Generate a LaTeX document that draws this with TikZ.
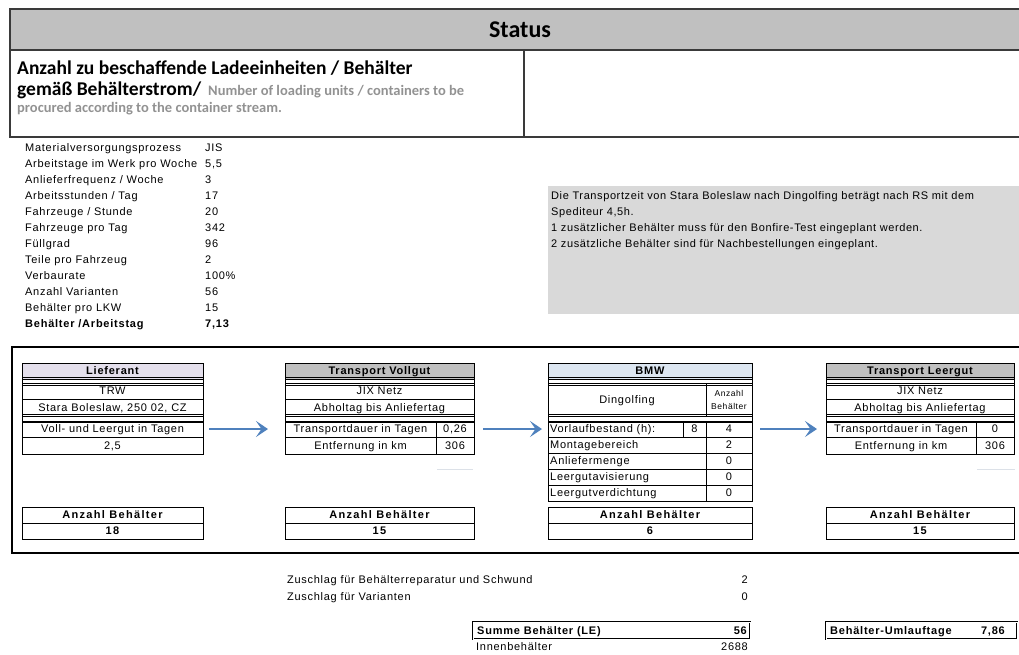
\documentclass[tikz,border=0pt]{standalone}
\usepackage{fontspec}
\setmainfont{Liberation Sans}
\newfontfamily\xlf[LetterSpace=6.5]{Liberation Sans}
\newfontfamily\xlb[LetterSpace=7]{Liberation Sans}
\newfontfamily\xlw[LetterSpace=12]{Liberation Sans}
\newfontfamily\xln[LetterSpace=5.5]{Liberation Sans}
\newfontfamily\cb{Carlito}
\usetikzlibrary{arrows.meta}

\definecolor{hdrgray}{HTML}{C0C0C0}
\definecolor{notegray}{HTML}{D9D9D9}
\definecolor{lavender}{HTML}{E4DFEC}
\definecolor{paleblue}{HTML}{DCE6F1}
\definecolor{flowblue}{HTML}{4F81BD}
\definecolor{engray}{HTML}{929292}
\definecolor{faint}{HTML}{DCE1E8}
\definecolor{darkline}{HTML}{3A3A3A}

% rectangular cell given by its corners: [options]{name}{x1}{y1}{x2}{y2}{text}
\newcommand\tcell[7][]{%
  \node[cell,minimum width={(#5-#3)*1pt},minimum height={(#6-#4)*1pt},#1]
    (#2) at ({(#3+#5)/2},{(#4+#6)/2}) {#7};}
% one line of the parameter list: [options]{row}{label}{value}
\newcommand\prow[4][]{%
  \node[ptext,#1] (pl#2) at (25,{135+16*#2}) {#3};
  \node[ptext,#1] (pv#2) at (205,{135+16*#2}) {#4};}

\begin{document}
\begin{tikzpicture}[x=1pt,y=-1pt,
  cell/.style={draw=black,line width=0.8pt,inner sep=0pt,outer sep=0pt,
    text height=7.9pt,text depth=0pt,font=\xlf\fontsize{11}{13}\selectfont},
  hcell/.style={cell,font=\xlb\bfseries\fontsize{11}{13}\selectfont},
  acell/.style={cell,font=\xlw\bfseries\fontsize{11}{13}\selectfont},
  spacer/.style={cell},
  ptext/.style={anchor=base west,inner sep=0pt,font=\xlf\fontsize{11}{13}\selectfont},
  ntext/.style={anchor=base west,inner sep=0pt,font=\xln\fontsize{11}{13}\selectfont},
  ltext/.style={anchor=west,inner sep=0pt,text height=7.9pt,text depth=0pt,
    font=\xlf\fontsize{11}{13}\selectfont},
  btext/.style={ltext,font=\xlb\bfseries\fontsize{11}{13}\selectfont},
  title/.style={anchor=base west,inner sep=0pt,font=\cb\bfseries\fontsize{19.5}{22}\selectfont},
  subtitle/.style={anchor=base west,inner sep=0pt,text=engray,
    font=\cb\bfseries\fontsize{14.5}{16}\selectfont},
  frameline/.style={draw=darkline,line width=1.3pt},
  flow/.style={draw=flowblue,line width=2.8pt,
    -{Stealth[length=12pt,width=16pt,inset=5.5pt]}},
  sumbox/.style={cell,double,double distance=0.9pt,line width=0.9pt},
]
\useasboundingbox (0,0) rectangle (1019,654);

% ---------- heading ----------
\tcell[fill=hdrgray,frameline,text height=15.5pt,
  font=\cb\bfseries\fontsize{24}{28}\selectfont]{status}{10}{9}{1030}{50}{Status}
\tcell[frameline]{titlecell}{10}{50}{524}{137}{}
\tcell[frameline]{remarkcell}{524}{50}{1030}{137}{}
\node[title] (t1) at (17,74) {Anzahl zu beschaffende Ladeeinheiten / Behälter};
\node[title] (t2) at (17,95) {gemäß Behälterstrom/};
\node[subtitle] (t2e) at (208,95) {Number of loading units / containers to be};
\node[subtitle] (t3) at (17,112) {procured according to the container stream.};

% ---------- parameters ----------
\prow{1}{Materialversorgungsprozess}{JIS}
\prow{2}{Arbeitstage im Werk pro Woche}{5,5}
\prow{3}{Anlieferfrequenz / Woche}{3}
\prow{4}{Arbeitsstunden / Tag}{17}
\prow{5}{Fahrzeuge / Stunde}{20}
\prow{6}{Fahrzeuge pro Tag}{342}
\prow{7}{Füllgrad}{96}
\prow{8}{Teile pro Fahrzeug}{2}
\prow{9}{Verbaurate}{100\%}
\prow{10}{Anzahl Varianten}{56}
\prow{11}{Behälter pro LKW}{15}
\prow[font=\xlb\bfseries\fontsize{11}{13}\selectfont]{12}{Behälter /Arbeitstag}{7,13}

% ---------- remarks ----------
\tcell[fill=notegray,draw=none]{note}{548}{186}{1030}{314}{}
\node[ntext] (n1) at (551,199) {Die Transportzeit von Stara Boleslaw nach Dingolfing beträgt nach RS mit dem};
\node[ntext] (n2) at (551,215) {Spediteur 4,5h.};
\node[ntext] (n3) at (551,231) {1 zusätzlicher Behälter muss für den Bonfire-Test eingeplant werden.};
\node[ntext] (n4) at (551,247) {2 zusätzliche Behälter sind für Nachbestellungen eingeplant.};

% ---------- container stream ----------
\tcell[line width=2pt]{frame}{12}{347}{1040}{553}{}

% supplier
\tcell[hcell,fill=lavender]{lhead}{22}{363}{203}{379}{Lieferant}
\tcell[spacer]{lsp1}{22}{379}{203}{383}{}
\tcell{ltrw}{22}{383}{203}{399}{TRW}
\tcell{lort}{22}{399}{203}{416}{Stara Boleslaw, 250 02, CZ}
\tcell[spacer]{lsp2}{22}{416}{203}{421}{}
\tcell{lvoll}{22}{421}{203}{437}{Voll- und Leergut in Tagen}
\tcell{lval}{22}{437}{203}{454}{2,5}
\tcell[acell]{lanzh}{22}{507}{203}{523}{Anzahl Behälter}
\tcell[acell]{lanz}{22}{523}{203}{539}{18}

% full-goods transport
\tcell[hcell,fill=hdrgray]{vhead}{285}{363}{474}{379}{Transport Vollgut}
\tcell[spacer]{vsp1}{285}{379}{474}{383}{}
\tcell{vnetz}{285}{383}{474}{399}{JIX Netz}
\tcell{vabh}{285}{399}{474}{416}{Abholtag bis Anliefertag}
\tcell[spacer]{vsp2}{285}{416}{474}{421}{}
\tcell{vdauer}{285}{421}{436}{437}{Transportdauer in Tagen}
\tcell{vdauerw}{436}{421}{474}{437}{0,26}
\tcell{vkm}{285}{437}{436}{454}{Entfernung in km}
\tcell{vkmw}{436}{437}{474}{454}{306}
\draw[faint,line width=0.8pt] (437,469) -- (473,469);
\tcell[acell]{vanzh}{285}{507}{474}{523}{Anzahl Behälter}
\tcell[acell]{vanz}{285}{523}{474}{539}{15}

% plant
\tcell[hcell,fill=paleblue]{bhead}{548}{363}{752}{379}{BMW}
\tcell[spacer]{bsp1}{548}{379}{752}{383}{}
\tcell{bding}{548}{383}{706}{416}{Dingolfing}
\tcell{banz}{706}{383}{752}{416}{}
\node[inner sep=0pt,align=center,font=\xlf\fontsize{8.5}{13}\selectfont] (banzt) at (banz.center) {Anzahl\\Behälter};
\tcell[spacer]{bsp2}{548}{416}{752}{421}{}
\tcell{bvl}{548}{421}{683}{437}{}
\tcell{bvlh}{683}{421}{706}{437}{8}
\tcell{bvlv}{706}{421}{752}{437}{4}
\tcell{bmo}{548}{437}{706}{453}{}
\tcell{bmov}{706}{437}{752}{453}{2}
\tcell{ban}{548}{453}{706}{469}{}
\tcell{banv}{706}{453}{752}{469}{0}
\tcell{bav}{548}{469}{706}{485}{}
\tcell{bavv}{706}{469}{752}{485}{0}
\tcell{bvd}{548}{485}{706}{501}{}
\tcell{bvdv}{706}{485}{752}{501}{0}
\node[ltext] (bvlt) at ([xshift=2pt]bvl.west) {Vorlaufbestand (h):};
\node[ltext] (bmot) at ([xshift=2pt]bmo.west) {Montagebereich};
\node[ltext] (bant) at ([xshift=2pt]ban.west) {Anliefermenge};
\node[ltext] (bavt) at ([xshift=2pt]bav.west) {Leergutavisierung};
\node[ltext] (bvdt) at ([xshift=2pt]bvd.west) {Leergutverdichtung};
\tcell[acell]{banzh}{548}{507}{752}{523}{Anzahl Behälter}
\tcell[acell]{banzw}{548}{523}{752}{539}{6}

% empties transport
\tcell[hcell,fill=hdrgray]{ehead}{826}{363}{1014}{379}{Transport Leergut}
\tcell[spacer]{esp1}{826}{379}{1014}{383}{}
\tcell{enetz}{826}{383}{1014}{399}{JIX Netz}
\tcell{eabh}{826}{399}{1014}{416}{Abholtag bis Anliefertag}
\tcell[spacer]{esp2}{826}{416}{1014}{421}{}
\tcell{edauer}{826}{421}{976}{437}{Transportdauer in Tagen}
\tcell{edauerw}{976}{421}{1014}{437}{0}
\tcell{ekm}{826}{437}{976}{454}{Entfernung in km}
\tcell{ekmw}{976}{437}{1014}{454}{306}
\draw[faint,line width=0.8pt] (977,469) -- (1015,469);
\tcell[acell]{eanzh}{826}{507}{1014}{523}{Anzahl Behälter}
\tcell[acell]{eanz}{826}{523}{1014}{539}{15}

% flow arrows
\draw[flow,shorten <=6pt,shorten >=17pt] (lvoll.east) -- (vdauer.west);
\draw[flow,shorten <=9pt,shorten >=6pt] (vdauerw.east) -- (bvl.west);
\draw[flow,shorten <=8pt,shorten >=9pt] (bvlv.east) -- (edauer.west);

% ---------- totals ----------
\node[ptext] (z1) at (287,583) {Zuschlag für Behälterreparatur und Schwund};
\node[ptext,anchor=base east] (z1v) at (748,583) {2};
\node[ptext] (z2) at (287,600) {Zuschlag für Varianten};
\node[ptext,anchor=base east] (z2v) at (748,600) {0};

\tcell[sumbox]{summe}{473}{622}{750}{639}{}
\node[btext] (summet) at ([xshift=4pt]summe.west) {Summe Behälter (LE)};
\node[btext,anchor=east] (summev) at ([xshift=-3pt]summe.east) {56};
\node[ptext] (innen) at (476,650) {Innenbehälter};
\node[ptext,anchor=base east] (innenv) at (748,650) {2688};

\tcell[sumbox]{umlauf}{826}{622}{1017}{639}{}
\node[btext] (umlauft) at ([xshift=4pt]umlauf.west) {Behälter-Umlauftage};
\node[btext,anchor=east] (umlaufv) at (1005,630.5) {7,86};
\end{tikzpicture}
\end{document}
